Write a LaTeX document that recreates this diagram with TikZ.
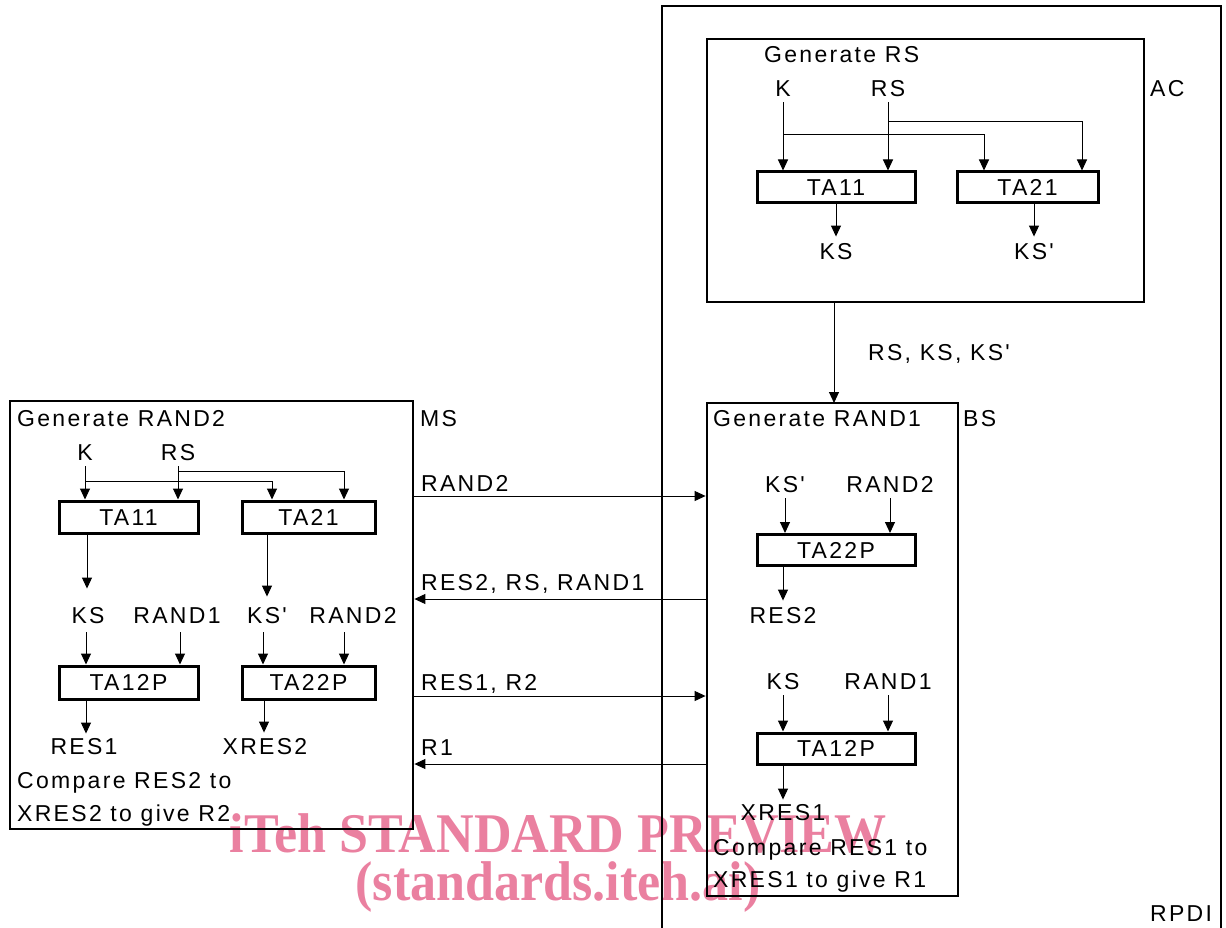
\documentclass[tikz,border=0pt]{standalone}
\usepackage{fontspec}
\setmainfont{Liberation Sans}
\newfontfamily\labfont{Liberation Sans}[LetterSpace=10]
\newfontfamily\wmfont{Liberation Serif}
\usetikzlibrary{arrows.meta}
\definecolor{wm}{RGB}{234,128,160}
\tikzset{
  lbl/.style={inner sep=0pt, font=\labfont\fontsize{23}{27}\selectfont, text height=16.5pt, text depth=0pt},
  lbll/.style={lbl, anchor=west},
  bigbox/.style={draw, line width=2.8pt, inner sep=0pt},
  tabox/.style={lbl, draw, line width=3pt, minimum width=158pt, minimum height=31pt},
  arr/.style={line width=1pt, -{Triangle[length=11pt,width=10pt]}},
  wire/.style={line width=1pt},
  wmark/.style={inner sep=0pt, anchor=base, text=wm, xscale=0.93, font=\wmfont\bfseries\fontsize{56}{60}\selectfont},
}
\begin{document}
\begin{tikzpicture}[x=1pt,y=-1pt]
\useasboundingbox (0,0) rectangle (1226,928);
% watermark
\node[wmark] (wm1) at (558,852) {iTeh STANDARD PREVIEW};
\node[wmark] (wm2) at (558,900) {(standards.iteh.ai)};

% RPDI outline
\draw[line width=2.8pt] (662,935) -- (662,6) -- (1221,6) -- (1221,935);
\node[lbll] (rpdi) at (1150,913) {RPDI};

% ---------- AC ----------
\node[bigbox, minimum width=437pt, minimum height=263pt] (AC) at (925.5,170.5) {};
\node[lbll] (acT) at (764,54) {Generate RS};
\node[lbll] (acL) at (1150,88) {AC};
\node[lbl] (acK) at (783,88) {K};
\node[lbl] (acRS) at (888,88) {RS};
\node[tabox] (acTA11) at (836,187.5) {TA11};
\node[tabox, minimum width=141pt] (acTA21) at (1027.5,187.5) {TA21};
\node[lbl] (acKS) at (836,251) {KS};
\node[lbl] (acKSp) at (1034,251) {KS'};
\draw[arr] ([yshift=-6pt]acK.south) -- (acK.south |- acTA11.north);
\draw[arr] ([yshift=-6pt]acRS.south) -- (acRS.south |- acTA11.north);
\coordinate (acKb) at (783,135);
\coordinate (acRSb) at (888,122);
\draw[arr] (acKb) -| ([xshift=-43.5pt]acTA21.north);
\draw[arr] (acRSb) -| ([xshift=54.5pt]acTA21.north);
\draw[arr, shorten >=6pt] (acTA11.south) -- (acTA11.south |- acKS.north);
\draw[arr, shorten >=6pt] (acKSp.north |- acTA21.south) -- (acKSp.north);

% AC -> BS
\draw[arr] ([xshift=-91.5pt]AC.south) -- ([xshift=-91.5pt]AC.south |- 0,403);
\node[lbll] (rsks) at (868,352) {RS, KS, KS'};

% ---------- BS ----------
\node[bigbox, minimum width=251pt, minimum height=493pt] (BS) at (832.5,649.5) {};
\node[lbll] (bsT) at (713,418) {Generate RAND1};
\node[lbll] (bsL) at (963,418) {BS};
\node[lbl] (bsKSp) at (785,484) {KS'};
\node[lbl] (bsR2) at (890,484) {RAND2};
\node[tabox] (bsTA22) at (836,550) {TA22P};
\node[lbl] (bsRES2) at (783,615) {RES2};
\node[lbl] (bsKS) at (783,681) {KS};
\node[lbl] (bsR1) at (888,681) {RAND1};
\node[tabox] (bsTA12) at (836,748.5) {TA12P};
\node[lbl] (bsX1) at (783,812) {XRES1};
\node[lbll] (bsC1) at (713,847) {Compare RES1 to};
\node[lbll] (bsC2) at (713,879) {XRES1 to give R1};
\draw[arr] ([yshift=-6pt]bsKSp.south) -- (bsKSp.south |- bsTA22.north);
\draw[arr] ([yshift=-6pt]bsR2.south) -- (bsR2.south |- bsTA22.north);
\draw[arr, shorten >=6pt] (bsRES2.north |- bsTA22.south) -- (bsRES2.north);
\draw[arr] ([yshift=-6pt]bsKS.south) -- (bsKS.south |- bsTA12.north);
\draw[arr] ([yshift=-6pt]bsR1.south) -- (bsR1.south |- bsTA12.north);
\draw[arr, shorten >=4pt] (bsX1.north |- bsTA12.south) -- (bsX1.north);

% ---------- MS ----------
\node[bigbox, minimum width=403pt, minimum height=428pt] (MS) at (211.5,615) {};
\node[lbll] (msT) at (17,418) {Generate RAND2};
\node[lbll] (msL) at (420,418) {MS};
\node[lbl] (msK) at (85,452) {K};
\node[lbl] (msRS) at (178,452) {RS};
\node[tabox, minimum width=139pt, minimum height=32pt] (msTA11) at (128.5,517) {TA11};
\node[tabox, minimum width=133pt, minimum height=32pt] (msTA21) at (308.5,517) {TA21};
\draw[arr] ([yshift=-6pt]msK.south) -- (msK.south |- msTA11.north);
\draw[arr] ([yshift=-6pt]msRS.south) -- (msRS.south |- msTA11.north);
\coordinate (msKb) at (85,481);
\coordinate (msRSb) at (178,471);
\draw[arr] (msKb) -| ([xshift=-36.5pt]msTA21.north);
\draw[arr] (msRSb) -| ([xshift=35.5pt]msTA21.north);
\node[lbl] (msKS) at (88,615) {KS};
\node[lbl] (msR1) at (177,615) {RAND1};
\node[lbl] (msKSp) at (267,615) {KS'};
\node[lbl] (msR2) at (353,615) {RAND2};
\draw[arr] ([xshift=-1pt]msKS.north |- msTA11.south) -- ([xshift=-1pt,yshift=18pt]msKS.north);
\draw[arr] (msKSp.north |- msTA21.south) -- ([yshift=10pt]msKSp.north);
\node[tabox, minimum width=139pt, minimum height=33pt] (msTA12) at (128.5,682.5) {TA12P};
\node[tabox, minimum width=133pt, minimum height=33pt] (msTA22) at (308.5,682.5) {TA22P};
\draw[arr] ([xshift=-2pt,yshift=-9pt]msKS.south) -- ([xshift=-2pt]msKS.south |- msTA12.north);
\draw[arr] ([xshift=3pt,yshift=-9pt]msR1.south) -- ([xshift=3pt]msR1.south |- msTA12.north);
\draw[arr] ([xshift=-4pt,yshift=-9pt]msKSp.south) -- ([xshift=-4pt]msKSp.south |- msTA22.north);
\draw[arr] ([xshift=-9pt,yshift=-9pt]msR2.south) -- ([xshift=-9pt]msR2.south |- msTA22.north);
\node[lbl] (msRES1) at (84,746) {RES1};
\node[lbl] (msX2) at (265,746) {XRES2};
\draw[arr, shorten >=4pt] ([xshift=2pt]msRES1.north |- msTA12.south) -- ([xshift=2pt]msRES1.north);
\draw[arr, shorten >=5pt] ([xshift=-1pt]msX2.north |- msTA22.south) -- ([xshift=-1pt]msX2.north);
\node[lbll] (msC1) at (17,780) {Compare RES2 to};
\node[lbll] (msC2) at (17,813) {XRES2 to give R2};

% ---------- messages ----------
\draw[arr] (MS.east |- 0,496) -- (BS.west |- 0,496);
\node[lbll] (m1) at (421,483) {RAND2};
\draw[arr] (BS.west |- 0,599) -- (MS.east |- 0,599);
\node[lbll] (m2) at (421,582) {RES2, RS, RAND1};
\draw[arr] (MS.east |- 0,696) -- (BS.west |- 0,696);
\node[lbll] (m3) at (421,682) {RES1, R2};
\draw[arr] (BS.west |- 0,764) -- (MS.east |- 0,764);
\node[lbll] (m4) at (421,747) {R1};
\end{tikzpicture}
\end{document}
